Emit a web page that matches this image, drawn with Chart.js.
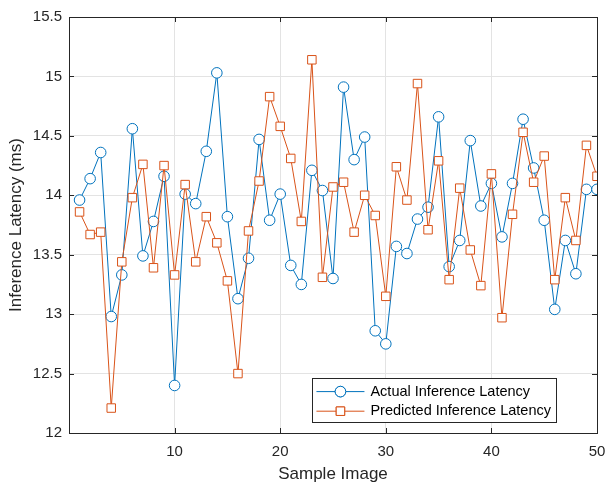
<!DOCTYPE html>
<html>
<head>
<meta charset="utf-8">
<script src="https://cdn.jsdelivr.net/npm/chart.js@4.4.1/dist/chart.umd.min.js"></script>
<style>
  html, body { margin: 0; padding: 0; background: #fff; overflow: hidden; }
  canvas { display: block; }
</style>
</head>
<body>
<canvas id="latencyChart" width="606" height="486"></canvas>
<script>
var samples = [1, 2, 3, 4, 5, 6, 7, 8, 9, 10,
               11, 12, 13, 14, 15, 16, 17, 18, 19, 20,
               21, 22, 23, 24, 25, 26, 27, 28, 29, 30,
               31, 32, 33, 34, 35, 36, 37, 38, 39, 40,
               41, 42, 43, 44, 45, 46, 47, 48, 49, 50];
var actualLatency = [13.96, 14.14, 14.36, 12.98, 13.33, 14.56, 13.49, 13.78, 14.16, 12.40,
                     14.01, 13.93, 14.37, 15.03, 13.82, 13.13, 13.47, 14.47, 13.79, 14.01,
                     13.41, 13.25, 14.21, 14.04, 13.30, 14.91, 14.30, 14.49, 12.86, 12.75,
                     13.57, 13.51, 13.80, 13.90, 14.66, 13.40, 13.62, 14.46, 13.91, 14.10,
                     13.65, 14.10, 14.64, 14.23, 13.79, 13.04, 13.62, 13.34, 14.05, 14.05];
var predictedLatency = [13.86, 13.67, 13.69, 12.21, 13.44, 13.98, 14.26, 13.39, 14.25, 13.33,
                        14.09, 13.44, 13.82, 13.60, 13.28, 12.50, 13.70, 14.12, 14.83, 14.58,
                        14.31, 13.78, 15.14, 13.31, 14.07, 14.11, 13.69, 14.00, 13.83, 13.15,
                        14.24, 13.96, 14.94, 13.71, 14.29, 13.29, 14.06, 13.54, 13.24, 14.18,
                        12.97, 13.84, 14.53, 14.11, 14.33, 13.29, 13.98, 13.62, 14.42, 14.16];
var xTicks = [10, 20, 30, 40, 50];
var yTicks = [12, 12.5, 13, 13.5, 14, 14.5, 15, 15.5];
var yTickLabels = ['12', '12.5', '13', '13.5', '14', '14.5', '15', '15.5'];

var textColor = '#262626';
var gridColor = '#e3e3e3';
var blue = '#0072BD';
var orange = '#D95319';
var fontFamily = '"Liberation Sans", Arial, sans-serif';

function toPoints(ys) {
    return samples.map(function (s, i) { return {x: s, y: ys[i]}; });
}

// box round the plot plus inward ticks, like the MATLAB axes
var framePlugin = {
    id: 'frame',
    afterDatasetsDraw: function (chart) {
        var ctx = chart.ctx, a = chart.chartArea;
        var xs = chart.scales.x, ys = chart.scales.y;
        var len = 5;
        ctx.save();
        ctx.strokeStyle = textColor;
        ctx.lineWidth = 1;
        ctx.beginPath();
        xTicks.forEach(function (v) {
            var px = Math.round(xs.getPixelForValue(v)) + 0.5;
            ctx.moveTo(px, a.bottom); ctx.lineTo(px, a.bottom - len);
            ctx.moveTo(px, a.top); ctx.lineTo(px, a.top + len);
        });
        yTicks.forEach(function (v) {
            var py = Math.round(ys.getPixelForValue(v)) + 0.5;
            ctx.moveTo(a.left, py); ctx.lineTo(a.left + len, py);
            ctx.moveTo(a.right, py); ctx.lineTo(a.right - len, py);
        });
        ctx.stroke();
        ctx.strokeRect(Math.round(a.left) + 0.5, Math.round(a.top) + 0.5,
                       Math.round(a.right - a.left), Math.round(a.bottom - a.top));
        ctx.restore();
    }
};

// legend box in the lower right corner
var legendPlugin = {
    id: 'boxLegend',
    afterDraw: function (chart) {
        var ctx = chart.ctx, a = chart.chartArea;
        var items = chart.data.datasets;
        ctx.save();
        ctx.font = '14.5px ' + fontFamily;
        var textW = 0;
        items.forEach(function (d) { textW = Math.max(textW, ctx.measureText(d.label).width); });
        var rowH = 19.6;
        var w = 4 + 48 + 6 + textW + 5;
        var h = rowH * items.length + 5;
        var right = a.right - 41, bottom = a.bottom - 10.5;
        var left = right - w, top = bottom - h;
        ctx.fillStyle = '#fff';
        ctx.fillRect(left, top, w, h);
        ctx.strokeStyle = textColor;
        ctx.lineWidth = 1;
        ctx.strokeRect(Math.round(left) + 0.5, Math.round(top) + 0.5, Math.round(w), Math.round(h));
        items.forEach(function (d, i) {
            var cy = top + 2.5 + rowH * (i + 0.5) + 1;
            var x0 = left + 4;
            ctx.strokeStyle = d.borderColor;
            ctx.beginPath();
            ctx.moveTo(x0, cy); ctx.lineTo(x0 + 48, cy);
            ctx.stroke();
            Chart.helpers.drawPoint(ctx, {
                pointStyle: d.pointStyle, radius: d.pointRadius, borderWidth: 1
            }, x0 + 24, cy);
            ctx.fillStyle = '#fff';
            ctx.fill();
            ctx.stroke();
            ctx.fillStyle = '#000';
            ctx.textBaseline = 'middle';
            ctx.fillText(d.label, x0 + 54, cy);
        });
        ctx.restore();
    }
};

var ctx = document.getElementById('latencyChart').getContext('2d');
var latencyChart = new Chart(ctx, {
    type: 'line',
    data: {
        datasets: [{
            label: 'Actual Inference Latency',
            data: toPoints(actualLatency),
            borderColor: blue,
            borderWidth: 1,
            pointStyle: 'circle',
            pointRadius: 5.3,
            pointBorderWidth: 1,
            pointBackgroundColor: '#fff',
            pointBorderColor: blue,
            order: 2
        }, {
            label: 'Predicted Inference Latency',
            data: toPoints(predictedLatency),
            borderColor: orange,
            borderWidth: 1,
            pointStyle: 'rect',
            pointRadius: 6,
            pointBorderWidth: 1,
            pointBackgroundColor: '#fff',
            pointBorderColor: orange,
            order: 1
        }]
    },
    options: {
        responsive: false,
        animation: false,
        events: [],
        layout: { padding: { left: 0, right: 9, top: 17, bottom: 0 } },
        plugins: {
            legend: { display: false },
            tooltip: { enabled: false }
        },
        elements: { line: { tension: 0 } },
        scales: {
            x: {
                type: 'linear',
                min: 0,
                max: 50,
                afterBuildTicks: function (scale) {
                    scale.ticks = xTicks.map(function (v) { return {value: v}; });
                },
                afterFit: function (scale) { scale.height = 53; },
                // outer tick marks kept invisible, they only push the labels down
                grid: { color: gridColor, drawTicks: true, tickLength: 10, tickColor: 'rgba(0,0,0,0)' },
                border: { display: false },
                ticks: {
                    color: textColor,
                    padding: 0,
                    maxRotation: 0,
                    font: { family: fontFamily, size: 15 }
                },
                title: {
                    display: true,
                    text: 'Sample Image',
                    color: textColor,
                    padding: { top: 0, bottom: 1 },
                    font: { family: fontFamily, size: 17 }
                }
            },
            y: {
                min: 12,
                max: 15.5,
                afterBuildTicks: function (scale) {
                    scale.ticks = yTicks.map(function (v) { return {value: v}; });
                },
                afterFit: function (scale) { scale.width = 69; },
                grid: { color: gridColor, drawTicks: false },
                border: { display: false },
                ticks: {
                    color: textColor,
                    padding: 7,
                    font: { family: fontFamily, size: 15 },
                    callback: function (value, index) { return yTickLabels[index]; }
                },
                title: {
                    display: true,
                    text: 'Inference Latency (ms)',
                    color: textColor,
                    padding: { top: 6, bottom: 0 },
                    font: { family: fontFamily, size: 17 }
                }
            }
        }
    },
    plugins: [framePlugin, legendPlugin]
});
</script>
</body>
</html>
